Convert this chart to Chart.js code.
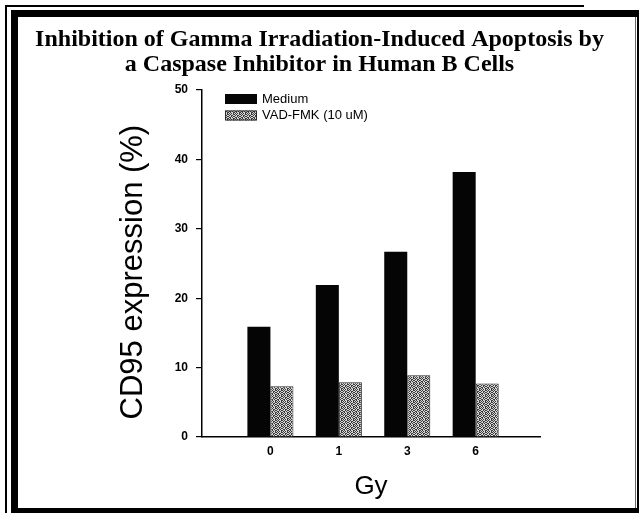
<!DOCTYPE html>
<html><head><meta charset="utf-8">
<script src="https://cdn.jsdelivr.net/npm/chart.js@4"></script>
<style>html,body{margin:0;padding:0;background:#fff;} canvas{display:block;}</style>
</head><body>
<canvas id="c" width="639" height="513"></canvas>
<script>
const categories = ['0', '1', '3', '6'];
const mediumValues = [15.9, 21.9, 26.7, 38.2];
const vadValues = [7.3, 7.9, 8.9, 7.7];
const seriesNames = ['Medium', 'VAD-FMK (10 uM)'];
const yTicks = [0, 10, 20, 30, 40, 50];
const titleLines = ['Inhibition of Gamma Irradiation-Induced Apoptosis by', 'a Caspase Inhibitor in Human B Cells'];
const yTitle = 'CD95 expression (%)';
const xTitle = 'Gy';

const SANS = '"Liberation Sans", Arial, Helvetica, sans-serif';
const SERIF = '"Liberation Serif", "Times New Roman", serif';

function makePattern() {
  const rows = [
    '#.#..#',
    '.#.##.',
    '#..#.#',
    '.##.#.',
    '#.#..#',
    '.#.#.#'
  ];
  const t = document.createElement('canvas');
  t.width = 6; t.height = 6;
  const g = t.getContext('2d');
  for (let r = 0; r < 6; r++) {
    for (let c = 0; c < 6; c++) {
      g.fillStyle = rows[r][c] === '#' ? '#3c3c3c' : '#d4d4d4';
      g.fillRect(c, r, 1, 1);
    }
  }
  return document.getElementById('c').getContext('2d').createPattern(t, 'repeat');
}
const greyPattern = makePattern();

const framePlugin = {
  id: 'frame',
  beforeDraw(chart) {
    const ctx = chart.ctx;
    ctx.save();
    ctx.fillStyle = '#fff';
    ctx.fillRect(0, 0, chart.width, chart.height);
    ctx.restore();
  },
  afterDraw(chart) {
    const ctx = chart.ctx;
    const W = chart.width, H = chart.height;
    ctx.save();
    ctx.fillStyle = '#000';
    ctx.fillRect(5, 5, 2, H - 5);
    ctx.fillRect(5, 5, W - 60, 2);
    ctx.fillRect(11, 10, 7, H - 10);
    ctx.fillRect(11, 10, W - 11, 7);
    ctx.fillRect(W - 2, 10, 2, H - 10);
    ctx.fillStyle = '#666';
    ctx.fillRect(W - 4, 17, 1, H - 22);
    ctx.fillStyle = '#000';
    ctx.fillRect(11, H - 5, W - 11, 5);
    ctx.restore();
  }
};

const legendPlugin = {
  id: 'insideLegend',
  afterDraw(chart) {
    const ctx = chart.ctx;
    const ca = chart.chartArea;
    const x0 = ca.left + 23;
    const centers = [ca.top + 9, ca.top + 25.5];
    ctx.save();
    chart.data.datasets.forEach((ds, i) => {
      const yc = centers[i];
      ctx.fillStyle = ds.backgroundColor;
      ctx.fillRect(x0, yc - 5, 32, 10);
      if (ds.borderWidth) {
        ctx.strokeStyle = ds.borderColor;
        ctx.lineWidth = 1;
        ctx.strokeRect(x0 + 0.5, yc - 4.5, 31, 9);
      }
      ctx.fillStyle = '#000';
      ctx.font = '13px ' + SANS;
      ctx.textBaseline = 'middle';
      ctx.textAlign = 'left';
      ctx.fillText(ds.label, x0 + 37, yc);
    });
    ctx.restore();
  }
};

new Chart(document.getElementById('c'), {
  type: 'bar',
  data: {
    datasets: [
      {
        label: seriesNames[0],
        data: categories.map((c, i) => ({ x: i + 1, y: mediumValues[i] })),
        backgroundColor: '#050505',
        borderWidth: 0
      },
      {
        label: seriesNames[1],
        data: categories.map((c, i) => ({ x: i + 1, y: vadValues[i] })),
        backgroundColor: greyPattern,
        borderColor: '#2a2a2a',
        borderWidth: 1
      }
    ]
  },
  options: {
    responsive: false,
    animation: false,
    events: [],
    layout: { padding: { left: 0, right: 0, top: 18, bottom: 5 } },
    datasets: { bar: { categoryPercentage: 0.673, barPercentage: 1 } },
    plugins: {
      legend: { display: false },
      tooltip: { enabled: false },
      title: {
        display: true,
        text: titleLines,
        color: '#000',
        font: { family: SERIF, size: 24, weight: 'bold', lineHeight: '25px' },
        padding: { top: 9, bottom: 13 }
      }
    },
    scales: {
      x: {
        type: 'linear',
        offset: false,
        min: 0,
        max: 4.94,
        afterBuildTicks: s => { s.ticks = categories.map((c, i) => ({ value: i + 1 })); },
        afterFit: s => { s.height = 71; },
        ticks: {
          callback: v => categories[v - 1] ?? '',
          color: '#000',
          font: { family: SANS, size: 12, weight: 'bold', lineHeight: 1.2 },
          padding: 7,
          maxRotation: 0,
          autoSkip: false
        },
        grid: { display: false, drawTicks: false, offset: false },
        border: { display: true, color: '#000', width: 1.5 },
        title: {
          display: true,
          text: xTitle,
          color: '#000',
          font: { family: SANS, size: 26, lineHeight: 1.2 },
          padding: { top: 12, bottom: 6 }
        }
      },
      y: {
        min: 0,
        max: 50,
        afterBuildTicks: s => { s.ticks = yTicks.map(v => ({ value: v })); },
        afterFit: s => { s.width = 202; },
        ticks: {
          color: '#000',
          font: { family: SANS, size: 12, weight: 'bold' },
          padding: 8
        },
        grid: { display: true, drawOnChartArea: false, drawTicks: true, tickLength: 6, color: '#000', lineWidth: 1.2 },
        border: { display: true, color: '#000', width: 1.5 },
        title: {
          display: true,
          text: yTitle + '\u00a0\u00a0',
          color: '#000',
          font: { family: SANS, size: 31, lineHeight: 1.2 },
          padding: { top: 115, bottom: 0 }
        }
      },
      yRightSpace: {
        type: 'linear',
        position: 'right',
        min: 0,
        max: 50,
        afterFit: s => { s.width = 99; },
        ticks: { display: false },
        grid: { display: false, drawTicks: false },
        border: { display: false }
      }
    }
  },
  plugins: [framePlugin, legendPlugin]
});
</script>
</body></html>
